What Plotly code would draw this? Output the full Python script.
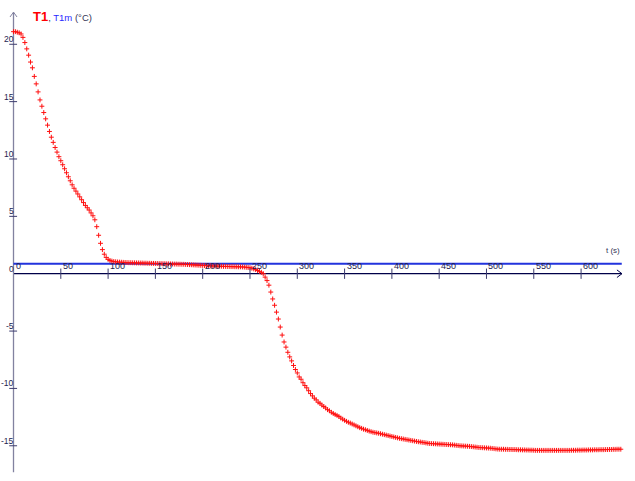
import plotly.graph_objects as go

# ---- data ----
time_s = list(range(0, 644, 2))
T1 = [
    21.10, 21.10, 21.05, 21.00, 20.90, 20.60, 20.15, 19.60, 19.05, 18.45,
    17.95, 17.20, 16.55, 15.85, 15.15, 14.60, 14.05, 13.50, 12.95, 12.40,
    11.90, 11.45, 11.00, 10.60, 10.20, 9.85, 9.50, 9.15, 8.80, 8.45,
    8.10, 7.75, 7.45, 7.20, 6.95, 6.70, 6.45, 6.20, 5.95, 5.75,
    5.55, 5.30, 5.05, 4.70, 4.10, 3.35, 2.65, 2.10, 1.70, 1.42,
    1.25, 1.15, 1.10, 1.06, 1.04,
    1.02, 1.01, 1.00, 0.99, 0.98, 0.97, 0.96, 0.96, 0.95, 0.95,
    0.94, 0.94, 0.93, 0.93, 0.92, 0.92, 0.91, 0.91, 0.90, 0.90,
    0.89, 0.89, 0.88, 0.88, 0.87, 0.87, 0.86, 0.86, 0.85, 0.85,
    0.84, 0.84, 0.83, 0.83, 0.82, 0.82, 0.81, 0.80, 0.79, 0.78,
    0.77, 0.76, 0.75, 0.74, 0.73, 0.72, 0.71, 0.70, 0.69, 0.68,
    0.68, 0.67, 0.66, 0.66, 0.65, 0.65, 0.64, 0.64, 0.63, 0.63,
    0.62, 0.62, 0.61, 0.61, 0.60, 0.60, 0.59, 0.58, 0.56, 0.54,
    0.52,
    0.48, 0.42, 0.36, 0.28, 0.20, 0.12, 0.00, -0.30, -0.60, -1.00,
    -1.60, -2.20, -2.75, -3.35, -3.95, -4.65, -5.35, -5.95, -6.40, -6.85,
    -7.25, -7.60, -8.00, -8.35, -8.65, -9.00, -9.20, -9.50, -9.75, -9.95,
    -10.20, -10.45, -10.65, -10.85, -11.00, -11.20, -11.30, -11.45, -11.58, -11.70,
    -11.85, -11.95, -12.08, -12.18, -12.28, -12.35, -12.45, -12.58, -12.68, -12.78,
    -12.87, -12.95, -13.02, -13.10, -13.18, -13.26, -13.34, -13.42, -13.48, -13.55,
    -13.60, -13.66, -13.72, -13.77, -13.82, -13.85, -13.88, -13.91, -13.95, -13.99,
    -14.03, -14.07, -14.11, -14.15, -14.19, -14.23, -14.27, -14.31, -14.35, -14.38,
    -14.41, -14.44, -14.47, -14.50, -14.53, -14.56, -14.59, -14.62, -14.65, -14.67,
    -14.70, -14.72, -14.75, -14.78, -14.80, -14.81, -14.82, -14.83, -14.84, -14.85,
    -14.86, -14.87, -14.88, -14.89, -14.90, -14.91, -14.92, -14.94, -14.96, -14.98,
    -15.00, -15.01, -15.02, -15.03, -15.04, -15.05, -15.07, -15.09, -15.11, -15.13,
    -15.15, -15.16, -15.17, -15.18, -15.19, -15.20, -15.21, -15.23, -15.25, -15.27,
    -15.29, -15.30, -15.30, -15.30, -15.31, -15.31, -15.32, -15.32, -15.33, -15.33,
    -15.34, -15.35, -15.35, -15.36, -15.36, -15.37, -15.37, -15.38, -15.38, -15.39,
    -15.40, -15.40, -15.40, -15.40, -15.40, -15.40, -15.40, -15.40, -15.40, -15.40,
    -15.40, -15.40, -15.40, -15.40, -15.40, -15.40, -15.40, -15.40, -15.40, -15.39,
    -15.39, -15.39, -15.38, -15.38, -15.38, -15.37, -15.37, -15.37, -15.36, -15.36,
    -15.36, -15.35, -15.35, -15.35, -15.34, -15.34, -15.34, -15.33, -15.33, -15.32,
    -15.32, -15.31, -15.31, -15.30, -15.30, -15.30,
]
T1m_time = [0, 643]
T1m = [0.87, 0.87]

x_ticks = [0, 50, 100, 150, 200, 250, 300, 350, 400, 450, 500, 550, 600]
y_ticks = [20, 15, 10, 5, 0, -5, -10, -15]

# ---- geometry ----
X_MIN, X_MAX = -14.27, 657.0
Y_MIN, Y_MAX = -18.07, 23.86
X_END = 643.2
Y_TOP, Y_BOT = 22.8, -17.3

AXIS_X_COL = "#000048"
AXIS_Y_COL = "#8282a0"
TICK_COL = "#3c3c6e"
LABEL_COL = "#1e1e50"
FONT = "Liberation Sans, Arial, sans-serif"

fig = go.Figure()

fig.add_trace(go.Scatter(
    x=T1m_time, y=T1m, mode="lines",
    line=dict(color="#2233dd", width=2.2), hoverinfo="skip", showlegend=False))

fig.add_trace(go.Scatter(
    x=time_s[:len(T1)], y=T1, mode="markers",
    marker=dict(symbol="cross-thin-open", size=3.5, color="#ff1010",
                line=dict(color="#ff1010", width=1)),
    hoverinfo="skip", showlegend=False))

shapes = []
# axes
shapes.append(dict(type="line", xref="x", yref="y", x0=0, x1=X_END, y0=0, y1=0,
                   line=dict(color=AXIS_X_COL, width=1.3), layer="below"))
shapes.append(dict(type="line", xref="x", yref="y", x0=0, x1=0, y0=Y_BOT, y1=Y_TOP,
                   line=dict(color=AXIS_Y_COL, width=1.3), layer="below"))
# arrowheads
shapes.append(dict(type="path", xref="x", yref="y",
                   path=f"M 637.9,0.33 L {X_END},0 L 637.9,-0.33",
                   line=dict(color=AXIS_X_COL, width=1)))
shapes.append(dict(type="path", xref="x", yref="y",
                   path=f"M -3.7,22.38 L 0,{Y_TOP} L 3.7,22.38",
                   line=dict(color=AXIS_Y_COL, width=1)))
# ticks
for t in x_ticks[1:]:
    shapes.append(dict(type="line", xref="x", yref="y", x0=t, x1=t, y0=-0.45, y1=0.45,
                       line=dict(color=TICK_COL, width=1)))
for v in y_ticks:
    if v == 0:
        continue
    shapes.append(dict(type="line", xref="x", yref="y", x0=-4.5, x1=3.8, y0=v, y1=v,
                       line=dict(color=TICK_COL, width=1)))

annotations = []
for t in x_ticks:
    annotations.append(dict(x=t, y=0, xref="x", yref="y", text=str(t), showarrow=False,
                            xanchor="left", yanchor="bottom", xshift=0, yshift=1,
                            font=dict(family=FONT, size=9, color=LABEL_COL)))
for v in y_ticks:
    annotations.append(dict(x=0, y=v, xref="x", yref="y", text=str(v), showarrow=False,
                            xanchor="right", yanchor="middle", xshift=1, yshift=5,
                            borderpad=0,
                            font=dict(family=FONT, size=8.5, color=LABEL_COL)))

annotations.append(dict(
    x=31 / 635, y=1 - 17 / 481, xref="paper", yref="paper", showarrow=False,
    xanchor="left", yanchor="middle",
    text=('<b><span style="color:#ff0000;font-size:13px">T1</span></b>'
          '<span style="color:#333355">, </span>'
          '<span style="color:#2a2aff">T1m</span>'
          '<span style="color:#333355"> (°C)</span>'),
    font=dict(family=FONT, size=9.5, color="#333355")))

annotations.append(dict(
    x=613 / 635, y=1 - 250 / 481, xref="paper", yref="paper", showarrow=False,
    xanchor="center", yanchor="middle", text="t (s)",
    font=dict(family=FONT, size=8, color="#333355")))

fig.update_layout(
    width=635, height=481,
    margin=dict(l=0, r=0, t=0, b=0, pad=0),
    paper_bgcolor="white", plot_bgcolor="white",
    hovermode=False,
    xaxis=dict(range=[X_MIN, X_MAX], visible=False, fixedrange=True),
    yaxis=dict(range=[Y_MIN, Y_MAX], visible=False, fixedrange=True),
    shapes=shapes, annotations=annotations, showlegend=False,
)

fig.write_html("out.html",
               config={"displayModeBar": False, "staticPlot": True},
               post_script="document.body.style.margin='0';document.body.style.overflow='hidden';")
